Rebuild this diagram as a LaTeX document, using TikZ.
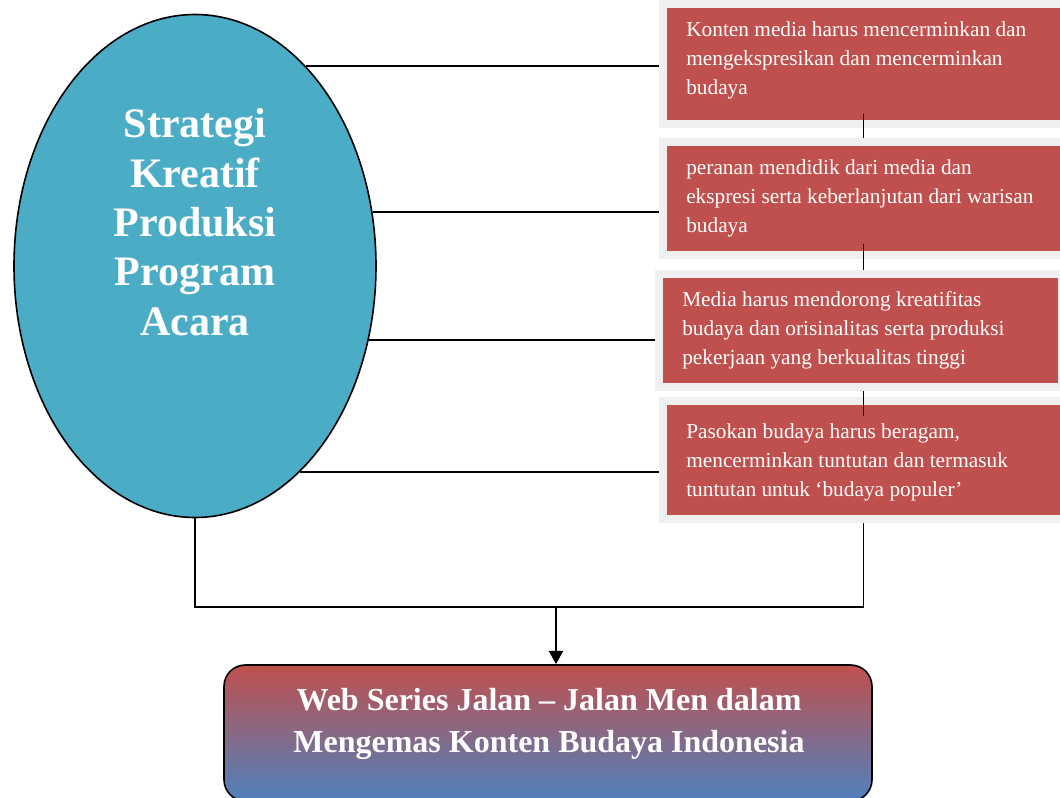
\documentclass[tikz,border=0pt]{standalone}
\usepackage{fontspec}
\setmainfont{Liberation Serif}
\usetikzlibrary{shapes.geometric,arrows.meta}
\definecolor{boxred}{HTML}{C0504D}
\definecolor{ellblue}{HTML}{4BACC6}
\definecolor{framegray}{HTML}{EFEFEF}
\definecolor{botblue}{HTML}{4F81BD}
\begin{document}
\begin{tikzpicture}[x=0.75pt,y=-0.75pt,
  redbox/.style={draw=framegray, line width=6pt, fill=boxred, inner sep=0pt, minimum width=300.75pt},
  boxtxt/.style={text=white, align=left, inner sep=0pt, anchor=west, font=\fontsize{16}{21.75}\selectfont},
  link/.style={draw=black, line width=1.3pt},
  ]
\useasboundingbox (0,0) rectangle (1060,798);
% ellipse
\node[ellipse, draw=black, line width=1.2pt, fill=ellblue, inner sep=0pt,
      minimum width=271.5pt, minimum height=377.25pt] (e) at (195,266) {};
\node[text=white, align=center, inner sep=0pt, font=\fontsize{31.5}{37}\selectfont\bfseries] (et) at (195,222)
  {Strategi\\Kreatif\\Produksi\\Program\\Acara};
% boxes
\node[redbox, minimum height=90pt] (b1) at (863.5,64) {};
\node[redbox, minimum height=84.75pt] (b2) at (863.5,198.5) {};
\node[redbox, minimum height=84.75pt, minimum width=302.25pt] (b3) at (860.5,330.5) {};
\node[redbox, minimum height=88.5pt] (b4) at (863.5,460) {};
% links ellipse -> boxes
\draw[link] (e.61.3) -- (e.61.3 -| b1.west);
\draw[link] (e.17.9) -- (e.17.9 -| b2.west);
\draw[link] (e.-23.5) -- (e.-23.5 -| b3.west);
\draw[link] (e.-63) -- (e.-63 -| b4.west);
% box texts
\node[boxtxt] (t1) at (686,60) {Konten media harus mencerminkan dan\\mengekspresikan dan mencerminkan\\budaya};
\node[boxtxt] (t2) at (686,198) {peranan mendidik dari media dan\\ekspresi serta keberlanjutan dari warisan\\budaya};
\node[boxtxt] (t3) at (682,330) {Media harus mendorong kreatifitas\\budaya dan orisinalitas serta produksi\\pekerjaan yang berkualitas tinggi};
\node[boxtxt] (t4) at (686,462) {Pasokan budaya harus beragam,\\mencerminkan tuntutan dan termasuk\\tuntutan untuk `budaya populer'};
% links between boxes
\draw[link] ([yshift=10.5pt]b1.south) -- (b1.south |- b2.north);
\draw[link] ([yshift=11pt]b2.south) -- (b2.south |- b3.north);
\draw[link] (b2.south |- b3.south) -- ([yshift=-14pt]b2.south |- b4.north);
% output box
\node[draw=black, line width=1.2pt, rounded corners=16pt, top color=boxred, bottom color=botblue,
      minimum width=486pt, minimum height=102pt, inner sep=0pt] (out) at (548,733) {};
\node[text=white, align=center, inner sep=0pt, font=\fontsize{24}{31.5}\selectfont\bfseries] (ot) at (549,724)
  {Web Series Jalan -- Jalan Men dalam\\Mengemas Konten Budaya Indonesia};
% bottom connectors
\coordinate (j) at (556,607);
\draw[link] (e.south) |- (j) -| (b4.south);
\draw[line width=1.6pt, -{Triangle[width=10.5pt,length=10pt]}] (j) -- (j |- out.north);
\end{tikzpicture}
\end{document}
